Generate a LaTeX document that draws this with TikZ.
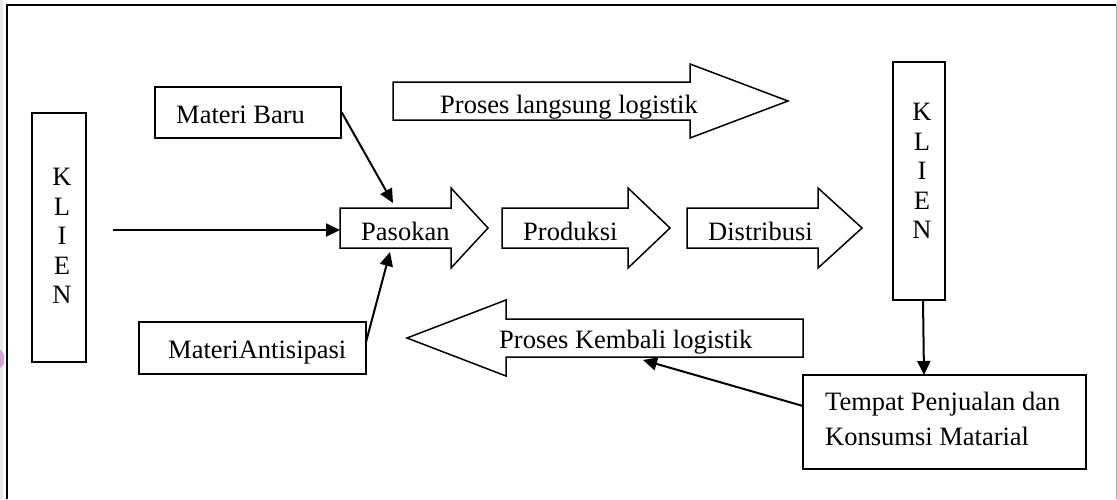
\documentclass[tikz,border=0pt]{standalone}
\usepackage{fontspec}
\setmainfont{Liberation Serif}
\usetikzlibrary{arrows.meta}
\newcommand{\blockright}[7]{% name, x1, x2, x3, yc, half shaft, half head
  \draw[blk] ({#2},{#5-#6}) -- ({#3},{#5-#6}) -- ({#3},{#5-#7}) -- ({#4},{#5})
    -- ({#3},{#5+#7}) -- ({#3},{#5+#6}) -- ({#2},{#5+#6}) -- cycle;
  \coordinate (#1) at ({(#2+#4)/2},{#5});}
\begin{document}
\begin{tikzpicture}[x=1pt,y=-1pt,
  box/.style={draw,line width=1.6pt,rectangle,inner sep=0pt},
  txt/.style={inner sep=0pt,font=\fontsize{26.5}{29.5}\selectfont},
  stack/.style={txt,align=center},
  blk/.style={draw,line width=1.5pt,line join=miter},
  conn/.style={line width=2pt,-{Triangle[length=14pt,width=13pt]}}]
\useasboundingbox (0,0) rectangle (1117,499);
% page frame
\fill[gray!18] (0,0) rectangle (3,499);
\begin{scope}
  \clip (0,0) rectangle (4,499);
  \fill[violet!35] (-6,359) circle (11);
\end{scope}
\draw[line width=2pt] (7,499) -- (7,5) -- (1116,5);
\draw[gray!70,line width=1pt] (1116,5) -- (1116,499);

% boxes
\node[box,minimum width=54pt,minimum height=249pt] (klienL) at (59,237.5) {};
\node[stack] (klienLt) at (62,236) {K\\L\\I\\E\\N};
\node[box,minimum width=52pt,minimum height=238pt] (klienR) at (919,181) {};
\node[stack] (klienRt) at (922,171) {K\\L\\I\\E\\N};
\node[box,minimum width=186pt,minimum height=51pt] (mb) at (248,112.5) {};
\node[txt,anchor=base west] (mbt) at (176,123) {Materi Baru};
\node[box,minimum width=227pt,minimum height=52pt] (ma) at (252.5,348) {};
\node[txt,anchor=base west] (mat) at (168,358) {MateriAntisipasi};
\node[box,minimum width=283pt,minimum height=94pt] (tp) at (944.5,422) {};
\node[txt,anchor=base west] (tp1) at (825,410) {Tempat Penjualan dan};
\node[txt,anchor=base west] (tp2) at (825,445) {Konsumsi Matarial};

% block arrows
\blockright{pas}{340}{451}{488}{228}{20}{40}
\node[txt,anchor=base west] (past) at (361,240) {Pasokan};
\blockright{pro}{502}{628}{670}{228}{20}{40}
\node[txt,anchor=base west] (prot) at (523,240) {Produksi};
\blockright{dis}{687}{818}{862}{228}{20}{40}
\node[txt,anchor=base west] (dist) at (708,240) {Distribusi};

\begin{scope}
  \clip (380,60) rectangle (800,119.5);
  \node[txt,anchor=base west] (langt) at (440,113) {Proses langsung logistik};
\end{scope}
\blockright{lang}{393}{690}{788}{101}{19}{37}

\begin{scope}
  \clip (400,295) rectangle (810,356.5);
  \node[txt,anchor=base west] (kemt) at (499,348) {Proses Kembali logistik};
\end{scope}
\draw[blk] (407,338) -- (506,300) -- (506,319) -- (803,319) -- (803,357)
  -- (506,357) -- (506,376) -- cycle;
\coordinate (kem) at (600,338);

% connectors
\coordinate (kin) at (113,230);
\coordinate (pasW) at (340,230);
\draw[conn] (kin) -- (pasW);
\coordinate (pasT) at (393,203);
\draw[conn] (mb.east) -- (pasT);
\coordinate (maE) at (366,342);
\coordinate (pasB) at (390,252);
\draw[conn] (maE) -- (pasB);
\coordinate (krS) at (923,300);
\coordinate (tpN) at (924,375);
\draw[conn] (krS) -- (tpN);
\coordinate (tpW) at (803,406);
\coordinate (kemB) at (643,360);
\draw[conn] (tpW) -- (kemB);
\end{tikzpicture}
\end{document}
